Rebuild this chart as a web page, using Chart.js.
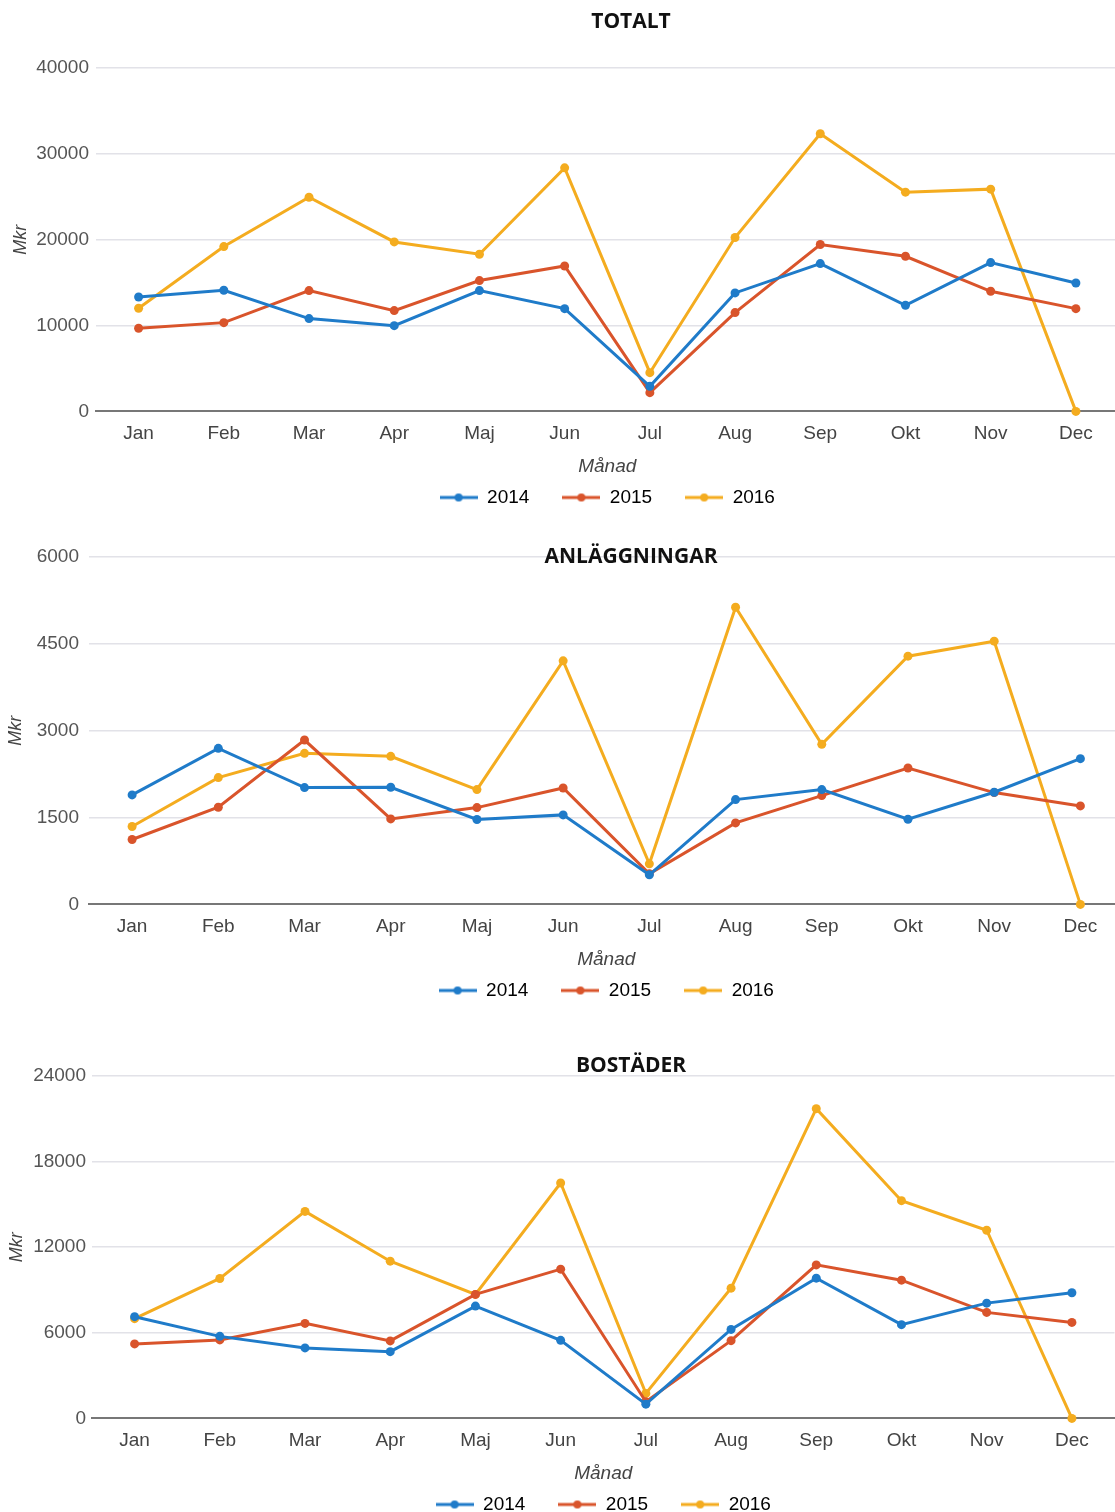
<!DOCTYPE html>
<html>
<head>
<meta charset="utf-8">
<script src="https://cdn.jsdelivr.net/npm/chart.js@4"></script>
<style>
  body { margin: 0; background: #fff; width: 1115px; height: 1512px; overflow: hidden; position: relative; }
  .box { position: absolute; left: 0; }
  .title { position: absolute; left: 631px; transform: translateX(-50%); height: 30px; line-height: 30px;
           font: bold 21px "Open Sans", sans-serif; color: #111; white-space: nowrap; pointer-events: none; }
</style>
</head>
<body>
<div class="box" id="box1" style="top:0px;width:1123px;height:517px"><canvas id="totalt"></canvas></div>
<div class="box" id="box2" style="top:517px;width:1128px;height:493px"><canvas id="anlaggningar"></canvas></div>
<div class="box" id="box3" style="top:1010px;width:1119px;height:514px"><canvas id="bostader"></canvas></div>
<div class="title" style="top:6px">TOTALT</div>
<div class="title" style="top:541px">ANLÄGGNINGAR</div>
<div class="title" style="top:1050px">BOSTÄDER</div>
<script>
const months = ['Jan', 'Feb', 'Mar', 'Apr', 'Maj', 'Jun', 'Jul', 'Aug', 'Sep', 'Okt', 'Nov', 'Dec'];
const years = ['2014', '2015', '2016'];
const colors = ['#1f7bc9', '#d9542b', '#f4ac1f'];

// TOTALT
const totalt2014 = [13330, 14110, 10810, 9990, 14070, 11970, 2920, 13800, 17220, 12360, 17330, 14960];
const totalt2015 = [9680, 10340, 14070, 11740, 15240, 16940, 2180, 11510, 19440, 18070, 13990, 11970];
const totalt2016 = [12010, 19200, 24950, 19740, 18310, 28370, 4510, 20250, 32340, 25540, 25890, 0];
const totaltTicks = [0, 10000, 20000, 30000, 40000];

// ANLÄGGNINGAR
const anl2014 = [1891, 2695, 2017, 2023, 1466, 1546, 511, 1810, 1983, 1471, 1937, 2517];
const anl2015 = [1121, 1678, 2839, 1477, 1672, 2011, 529, 1408, 1879, 2356, 1931, 1701];
const anl2016 = [1345, 2190, 2609, 2557, 1983, 4207, 701, 5132, 2764, 4287, 4546, 0];
const anlTicks = [0, 1500, 3000, 4500, 6000];

// BOSTÄDER
const bos2014 = [7130, 5750, 4940, 4680, 7870, 5470, 1000, 6240, 9830, 6570, 8080, 8810];
const bos2015 = [5220, 5500, 6660, 5430, 8690, 10460, 1170, 5450, 10760, 9690, 7430, 6730];
const bos2016 = [6990, 9810, 14510, 11020, 8690, 16500, 1750, 9130, 21710, 15260, 13190, 0];
const bosTicks = [0, 6000, 12000, 18000, 24000];

Chart.defaults.font.family = "'Liberation Sans', Arial, sans-serif";
Chart.defaults.color = '#555';

function legendIcon(color) {
  const c = document.createElement('canvas');
  c.width = 38;
  c.height = 12;
  const g = c.getContext('2d');
  g.strokeStyle = color;
  g.lineWidth = 3;
  g.beginPath();
  g.moveTo(0, 6);
  g.lineTo(38, 6);
  g.stroke();
  g.fillStyle = color;
  g.beginPath();
  g.arc(19, 6, 4, 0, Math.PI * 2);
  g.fill();
  return c;
}

function makeChart(id, series, ticks, axisWidth, tickPad, titlePad, topPad) {
  const ctx = document.getElementById(id).getContext('2d');
  new Chart(ctx, {
    type: 'line',
    data: {
      labels: months,
      datasets: series.map((values, i) => ({
        label: years[i],
        data: values,
        borderColor: colors[i],
        backgroundColor: colors[i],
        pointBackgroundColor: colors[i],
        pointBorderWidth: 0,
        pointRadius: 4.5,
        borderWidth: 3,
        tension: 0,
        clip: false
      }))
    },
    options: {
      responsive: true,
      maintainAspectRatio: false,
      animation: false,
      layout: { padding: { top: topPad, left: 0, right: 0, bottom: 0 } },
      plugins: {
        tooltip: { enabled: false },
        legend: {
          position: 'bottom',
          fullSize: false,
          labels: {
            usePointStyle: true,
            pointStyleWidth: 38,
            padding: 33,
            color: '#444',
            font: { size: 19 },
            generateLabels: chart => chart.data.datasets.map((d, i) => ({
              text: d.label,
              pointStyle: legendIcon(d.borderColor),
              fillStyle: d.borderColor,
              strokeStyle: d.borderColor,
              lineWidth: 0,
              hidden: false,
              datasetIndex: i
            }))
          }
        }
      },
      scales: {
        x: {
          offset: true,
          grid: { display: false, drawTicks: false },
          border: { color: '#777', width: 2 },
          ticks: { padding: 11, color: '#444', font: { size: 19 } },
          title: {
            display: true,
            text: 'Månad',
            color: '#444',
            font: { size: 19, style: 'italic' },
            padding: { top: -1, bottom: -23 }
          }
        },
        y: {
          min: ticks[0],
          max: ticks[ticks.length - 1],
          afterFit: scale => { scale.width = axisWidth; },
          grid: {
            drawTicks: false,
            lineWidth: 1.5,
            color: c => c.tick && c.tick.value === 0 ? 'rgba(0,0,0,0)' : '#e2e2e8'
          },
          border: { display: false },
          ticks: {
            stepSize: ticks[1] - ticks[0],
            padding: tickPad,
            color: '#555',
            font: { size: 19 },
            callback: value => String(value)
          },
          title: {
            display: true,
            text: 'Mkr',
            color: '#444',
            font: { size: 18, style: 'italic' },
            padding: { top: titlePad, bottom: 0 }
          }
        }
      }
    }
  });
}

makeChart('totalt', [totalt2014, totalt2015, totalt2016], totaltTicks, 96, 7, 10, 68);
makeChart('anlaggningar', [anl2014, anl2015, anl2016], anlTicks, 89, 10, 5, 40);
makeChart('bostader', [bos2014, bos2015, bos2016], bosTicks, 92, 6, 6, 66);
</script>
</body>
</html>
